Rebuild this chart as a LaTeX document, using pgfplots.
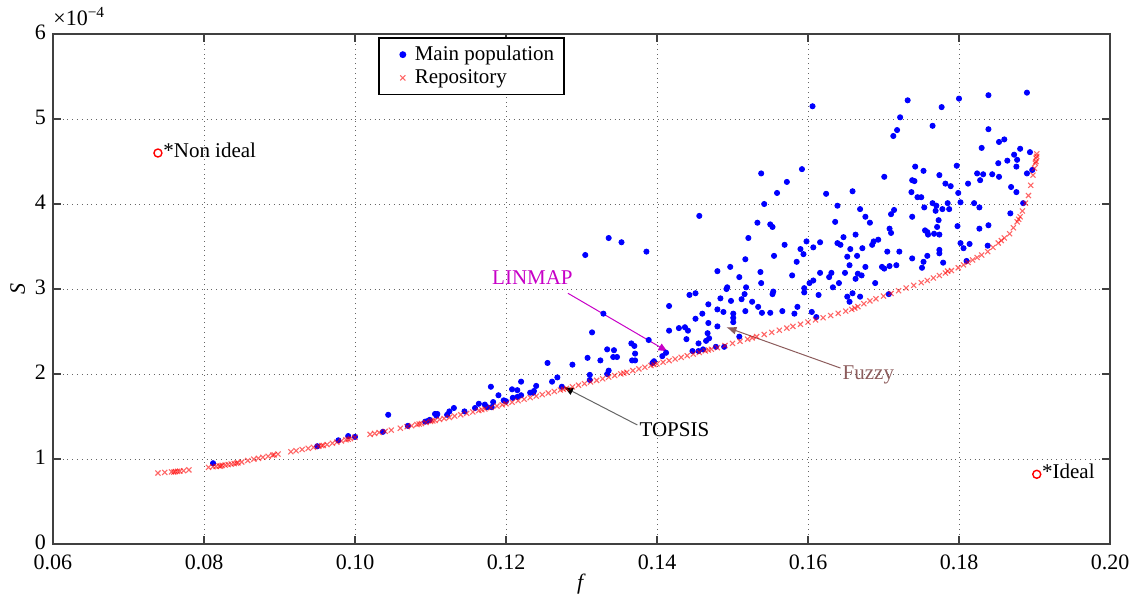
\documentclass[border=0pt]{standalone}
\usepackage{pgfplots}
\pgfplotsset{compat=1.18}
\usepackage{fontspec}
\setmainfont{Liberation Serif}
\usetikzlibrary{arrows.meta}
\definecolor{linmapc}{rgb}{0.78,0.0,0.78}
\definecolor{fuzzyc}{rgb}{0.55,0.36,0.36}
\begin{document}
\begin{tikzpicture}
\useasboundingbox (-26.5pt,-28pt) rectangle (541.5pt,272pt);
\begin{axis}[
  at={(0,0)}, anchor=south west,
  width=528.5pt, height=255pt, scale only axis,
  xmin=0.06, xmax=0.20, ymin=0, ymax=6,
  xtick={0.06,0.08,0.10,0.12,0.14,0.16,0.18,0.20},
  xticklabels={0.06,0.08,0.10,0.12,0.14,0.16,0.18,0.20},
  ytick={0,1,2,3,4,5,6},
  yticklabels={0,1,2,3,4,5,6},
  grid=major,
  grid style={dotted, black!60, line width=0.5pt},
  tick align=inside,
  major tick length=4pt,
  axis line style={black!75, line width=0.8pt},
  tick style={black!75, line width=0.8pt},
  ticklabel style={font=\fontsize{11}{13}\selectfont},
  xticklabel style={yshift=-2pt},
  yticklabel style={yshift=1pt},
  xlabel={\textit{f}}, ylabel={\textit{S}},
  label style={font=\fontsize{11}{13}\selectfont},
  xlabel style={yshift=5pt},
  ylabel style={yshift=-2pt},
  legend style={at={(0.3075,0.994)}, anchor=north west, draw=black, line width=0.8pt,
    font=\fontsize{10.5}{12.5}\selectfont, inner xsep=3pt, inner ysep=2pt, row sep=-1pt},
  legend image code/.code={\path[draw=none,fill=none] (0pt,0pt) -- (13pt,0pt); \path[#1, draw=none] plot coordinates {(9pt,0pt)};},
  legend cell align=left,
  clip=false,
]
\addplot[only marks, mark=*, mark size=1.3pt, color=blue] table {
0.0812 0.95
0.0950 1.15
0.0978 1.22
0.0991 1.27
0.1000 1.26
0.1037 1.32
0.1044 1.52
0.1070 1.39
0.1093 1.44
0.1097 1.45
0.1099 1.46
0.1106 1.53
0.1108 1.51
0.1109 1.53
0.1122 1.52
0.1125 1.56
0.1131 1.60
0.1145 1.56
0.1159 1.60
0.1164 1.65
0.1172 1.64
0.1175 1.61
0.1180 1.85
0.1181 1.61
0.1183 1.67
0.1190 1.75
0.1197 1.69
0.1200 1.68
0.1208 1.82
0.1209 1.72
0.1215 1.81
0.1215 1.73
0.1220 1.91
0.1220 1.75
0.1232 1.78
0.1236 1.78
0.1237 1.80
0.1240 1.86
0.1255 2.13
0.1261 1.91
0.1268 1.96
0.1274 1.85
0.1288 2.11
0.1305 3.40
0.1308 2.19
0.1311 1.99
0.1311 1.93
0.1314 2.49
0.1325 2.16
0.1329 2.71
0.1334 2.29
0.1334 2.00
0.1336 2.04
0.1336 3.60
0.1342 2.20
0.1343 2.28
0.1347 2.20
0.1353 3.55
0.1366 2.36
0.1367 2.16
0.1370 2.33
0.1371 2.24
0.1371 2.16
0.1386 3.44
0.1389 2.40
0.1394 2.13
0.1396 2.15
0.1407 2.21
0.1412 2.25
0.1416 2.80
0.1416 2.51
0.1429 2.54
0.1437 2.55
0.1439 2.41
0.1441 2.51
0.1443 2.93
0.1447 2.27
0.1451 2.95
0.1451 2.65
0.1455 2.36
0.1455 2.27
0.1456 3.86
0.1460 2.71
0.1461 2.29
0.1465 2.39
0.1467 2.48
0.1468 2.82
0.1468 2.60
0.1469 2.42
0.1478 2.32
0.1480 3.21
0.1480 2.76
0.1480 2.56
0.1484 2.89
0.1488 2.73
0.1489 2.32
0.1492 3.00
0.1493 3.02
0.1497 3.26
0.1498 2.86
0.1501 2.71
0.1501 2.66
0.1501 2.61
0.1509 3.14
0.1509 2.44
0.1512 2.88
0.1516 2.94
0.1517 3.35
0.1517 2.74
0.1518 3.02
0.1521 3.60
0.1526 2.85
0.1533 3.78
0.1534 2.79
0.1537 3.20
0.1538 4.36
0.1538 3.07
0.1539 2.72
0.1542 4.00
0.1550 3.76
0.1550 2.72
0.1553 3.73
0.1553 2.94
0.1554 2.97
0.1555 3.39
0.1559 4.13
0.1566 2.74
0.1569 3.52
0.1572 4.26
0.1579 3.16
0.1582 2.71
0.1585 3.32
0.1586 2.79
0.1590 3.47
0.1592 4.41
0.1594 3.41
0.1595 3.01
0.1595 2.96
0.1598 3.56
0.1602 3.07
0.1605 2.73
0.1606 5.15
0.1607 3.49
0.1607 3.10
0.1611 2.67
0.1614 2.93
0.1616 3.55
0.1616 3.19
0.1624 4.12
0.1628 3.14
0.1631 3.19
0.1633 3.02
0.1636 3.79
0.1639 3.98
0.1639 3.54
0.1641 3.07
0.1643 3.52
0.1647 3.61
0.1649 3.19
0.1652 3.38
0.1652 2.91
0.1655 3.28
0.1655 2.85
0.1656 3.47
0.1659 4.15
0.1659 2.95
0.1663 3.64
0.1663 3.12
0.1665 3.39
0.1666 3.18
0.1669 3.94
0.1669 2.91
0.1671 3.16
0.1672 3.48
0.1676 3.85
0.1676 3.26
0.1682 3.78
0.1685 3.52
0.1687 3.56
0.1689 3.07
0.1693 3.58
0.1698 3.26
0.1701 4.32
0.1701 3.24
0.1705 3.44
0.1707 2.94
0.1708 3.71
0.1708 3.27
0.1710 3.88
0.1710 3.66
0.1713 4.80
0.1714 3.93
0.1717 3.28
0.1718 4.87
0.1721 3.44
0.1722 5.02
0.1732 5.22
0.1737 4.14
0.1738 4.28
0.1738 3.85
0.1738 3.36
0.1741 4.27
0.1742 4.44
0.1745 4.08
0.1750 4.08
0.1751 3.25
0.1753 4.39
0.1753 3.32
0.1754 3.96
0.1755 3.69
0.1758 3.67
0.1758 3.39
0.1759 3.64
0.1765 4.92
0.1765 4.01
0.1767 3.65
0.1769 3.92
0.1770 3.98
0.1771 3.73
0.1773 3.81
0.1774 4.34
0.1774 3.64
0.1774 3.46
0.1774 3.42
0.1777 5.14
0.1778 3.94
0.1779 3.31
0.1782 4.24
0.1785 4.01
0.1787 3.94
0.1789 4.21
0.1797 4.45
0.1798 3.74
0.1799 4.13
0.1800 5.24
0.1802 4.02
0.1802 3.54
0.1806 3.48
0.1810 3.33
0.1812 4.24
0.1814 3.53
0.1820 4.01
0.1824 4.36
0.1827 3.96
0.1827 3.71
0.1828 4.28
0.1830 4.66
0.1832 4.35
0.1839 4.88
0.1838 3.51
0.1839 5.28
0.1839 3.75
0.1844 4.35
0.1852 4.48
0.1853 4.73
0.1853 4.32
0.1860 4.76
0.1864 4.51
0.1868 3.89
0.1869 4.20
0.1873 4.58
0.1876 4.44
0.1876 4.14
0.1877 4.52
0.1881 4.65
0.1885 4.01
0.1890 5.31
0.1890 4.36
0.1894 4.61
0.1897 4.40
};
\addlegendentry{Main population}
\addplot[only marks, mark=x, mark size=1.8pt, color=red, mark options={draw opacity=0.6, line width=0.55pt}] table {
0.0739 0.835
0.0748 0.842
0.0757 0.848
0.0760 0.846
0.0762 0.852
0.0765 0.855
0.0768 0.857
0.0773 0.862
0.0780 0.872
0.0806 0.902
0.0812 0.910
0.0816 0.913
0.0820 0.918
0.0822 0.916
0.0824 0.925
0.0828 0.929
0.0832 0.935
0.0836 0.940
0.0840 0.946
0.0843 0.951
0.0845 0.955
0.0850 0.965
0.0858 0.982
0.0866 0.998
0.0872 1.008
0.0878 1.020
0.0885 1.032
0.0891 1.045
0.0893 1.050
0.0898 1.058
0.0915 1.085
0.0922 1.098
0.0930 1.112
0.0938 1.125
0.0945 1.137
0.0952 1.150
0.0956 1.158
0.0958 1.160
0.0963 1.170
0.0970 1.185
0.0976 1.198
0.0982 1.212
0.0988 1.226
0.0991 1.232
0.0994 1.240
0.1000 1.255
0.1020 1.290
0.1026 1.301
0.1032 1.312
0.1040 1.326
0.1048 1.340
0.1060 1.362
0.1069 1.380
0.1075 1.392
0.1082 1.405
0.1085 1.412
0.1088 1.418
0.1094 1.430
0.1100 1.442
0.1103 1.448
0.1106 1.454
0.1112 1.465
0.1118 1.476
0.1125 1.490
0.1132 1.505
0.1140 1.521
0.1148 1.537
0.1156 1.553
0.1164 1.570
0.1168 1.579
0.1172 1.588
0.1180 1.605
0.1188 1.623
0.1195 1.638
0.1200 1.650
0.1208 1.668
0.1216 1.686
0.1224 1.704
0.1232 1.722
0.1240 1.740
0.1248 1.758
0.1256 1.776
0.1264 1.794
0.1272 1.812
0.1276 1.821
0.1280 1.830
0.1288 1.849
0.1296 1.868
0.1304 1.887
0.1312 1.906
0.1320 1.925
0.1328 1.944
0.1336 1.963
0.1344 1.982
0.1352 2.001
0.1356 2.010
0.1360 2.020
0.1368 2.040
0.1376 2.060
0.1384 2.080
0.1392 2.100
0.1396 2.110
0.1400 2.120
0.1408 2.139
0.1416 2.158
0.1424 2.177
0.1432 2.196
0.1440 2.215
0.1448 2.234
0.1456 2.253
0.1464 2.272
0.1468 2.282
0.1472 2.291
0.1480 2.310
0.1490 2.335
0.1500 2.360
0.1510 2.385
0.1520 2.410
0.1526 2.425
0.1532 2.440
0.1542 2.465
0.1552 2.490
0.1562 2.515
0.1572 2.540
0.1580 2.560
0.1590 2.585
0.1600 2.611
0.1610 2.637
0.1620 2.662
0.1630 2.688
0.1640 2.714
0.1650 2.740
0.1658 2.760
0.1662 2.776
0.1666 2.793
0.1674 2.827
0.1682 2.860
0.1690 2.885
0.1700 2.917
0.1710 2.948
0.1720 2.980
0.1730 3.012
0.1740 3.043
0.1750 3.075
0.1758 3.100
0.1766 3.129
0.1774 3.159
0.1782 3.188
0.1785 3.210
0.1790 3.217
0.1799 3.250
0.1806 3.284
0.1812 3.313
0.1818 3.342
0.1824 3.371
0.1830 3.400
0.1838 3.440
0.1845 3.490
0.1852 3.541
0.1856 3.570
0.1860 3.600
0.1867 3.650
0.1872 3.720
0.1877 3.790
0.1879 3.820
0.1881 3.850
0.1884 3.918
0.1888 4.010
0.1892 4.100
0.1895 4.220
0.1898 4.340
0.1900 4.420
0.1901 4.480
0.1902 4.540
0.1903 4.590
0.1903 4.560
0.1902 4.500
};
\addlegendentry{Repository}
\addplot[only marks, mark=o, mark size=2pt, color=red, line width=0.7pt, forget plot] coordinates {(0.0739,4.60) (0.1903,0.82)};
\node[anchor=base west, inner sep=0pt, xshift=2.5pt, yshift=-2pt, font=\fontsize{10.5}{12}\selectfont] at (axis cs:0.0739,4.60) {*Non ideal};
\node[anchor=base west, inner sep=0pt, xshift=2.5pt, yshift=-2pt, font=\fontsize{10.5}{12}\selectfont] at (axis cs:0.1903,0.82) {*Ideal};
\draw[linmapc, line width=0.5pt, -{Latex[length=5pt,width=4pt]}] (axis cs:0.1282,2.95) -- (axis cs:0.1415,2.26);
\node[linmapc, font=\fontsize{10.5}{12}\selectfont] at (axis cs:0.1235,3.14) {LINMAP};
\draw[black!60, line width=0.5pt, -{Latex[length=5pt,width=4pt,color=black]}] (axis cs:0.1374,1.40) -- (axis cs:0.1276,1.85);
\node[font=\fontsize{10.5}{12}\selectfont] at (axis cs:0.1423,1.34) {TOPSIS};
\draw[fuzzyc, line width=0.5pt, -{Latex[length=5pt,width=4pt]}] (axis cs:0.1643,2.07) -- (axis cs:0.1492,2.55);
\node[fuzzyc, font=\fontsize{10.5}{12}\selectfont] at (axis cs:0.1680,1.99) {Fuzzy};
\node[anchor=south west, inner sep=0pt, yshift=4pt, font=\fontsize{11}{13}\selectfont] at (rel axis cs:0,1) {×10\textsuperscript{−4}};
\end{axis}
\end{tikzpicture}
\end{document}
